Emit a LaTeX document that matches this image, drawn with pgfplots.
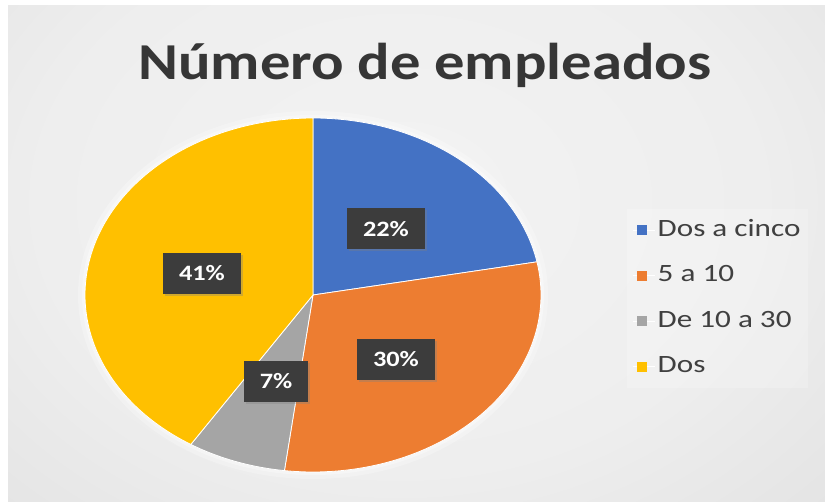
\documentclass[border=0pt]{standalone}
\usepackage{pgfplots}
\pgfplotsset{compat=1.18}
\usepackage{fontspec}
\setmainfont{Carlito}
\usetikzlibrary{shadows}
\definecolor{cBlue}{HTML}{4472C4}
\definecolor{cOrange}{HTML}{ED7D31}
\definecolor{cGray}{HTML}{A5A5A5}
\definecolor{cYellow}{HTML}{FFC000}
\definecolor{lblbox}{HTML}{3C3C3C}
\definecolor{txt}{HTML}{404040}
\definecolor{ttl}{HTML}{363636}
\definecolor{bgA}{HTML}{F3F3F3}
\definecolor{bgB}{HTML}{EEEEEE}
\definecolor{bgC}{HTML}{D9D9D9}
\definecolor{bgD}{HTML}{C6C6C6}
\pgfdeclareradialshading{bgshade}{\pgfpoint{0bp}{0bp}}{color(0bp)=(bgA); color(15bp)=(bgB); color(35bp)=(bgC); color(50bp)=(bgD)}
\tikzset{lbl/.style={fill=lblbox, text=white, font=\bfseries\fontsize{22}{22}\selectfont,
    minimum height=41bp, inner xsep=16bp, inner ysep=0bp,
    drop shadow={opacity=0.35, shadow xshift=2bp, shadow yshift=-2bp}}}
\begin{document}
\begin{tikzpicture}
\path[use as bounding box] (0,0) rectangle (825bp,502bp);
\fill[white] (0,0) rectangle (825bp,502bp);
\begin{scope}
\clip (8bp,0) rectangle (825bp,496bp);
\shade[shading=bgshade] (-200bp,-150bp) rectangle (1000bp,750bp);
\end{scope}
\node[anchor=base, text=ttl, font=\bfseries\fontsize{52}{52}\selectfont] at (425bp,422bp) {\scalebox{1.17}[1]{Número de empleados}};
\begin{axis}[
  at={(85bp,30bp)}, anchor=south west,
  width=456bp, height=354bp, scale only axis,
  xmin=-1, xmax=1, ymin=-1, ymax=1,
  hide axis, clip=false,
  legend image code/.code={\path (0bp,0bp) -- (22bp,0bp);\fill[#1,draw=none,fill opacity=1] (4bp,-5bp) rectangle (14bp,5bp);},
  legend cell align=left,
  legend style={at={(1.188,0.743)}, anchor=north west, draw=none,
    fill=white, fill opacity=0.2, text opacity=1, text=txt,
    font=\fontsize{25}{25}\selectfont, row sep=19.5bp,
    inner xsep=6bp, inner ysep=8bp,
    nodes={text height=17bp, text depth=5bp, inner xsep=2bp}},
]
% soft glow around the pie
\draw[white, opacity=0.25, line width=14bp] (axis cs:0,0) ellipse [x radius=1, y radius=1];
\draw[white, opacity=0.35, line width=6bp] (axis cs:0,0) ellipse [x radius=1, y radius=1];
% slices: 22%, 30%, 7%, 41%, clockwise from 12 o'clock (3.6 deg per percent)
\addplot[fill=cBlue, draw=white, line width=0.8bp, domain=10.8:90, samples=80] ({cos(x)},{sin(x)}) -- (axis cs:0,0) -- cycle;
\addplot[fill=cOrange, draw=white, line width=0.8bp, domain=-97.2:10.8, samples=100] ({cos(x)},{sin(x)}) -- (axis cs:0,0) -- cycle;
\addplot[fill=cGray, draw=white, line width=0.8bp, domain=-122.4:-97.2, samples=40] ({cos(x)},{sin(x)}) -- (axis cs:0,0) -- cycle;
\addplot[fill=cYellow, draw=white, line width=0.8bp, domain=-270:-122.4, samples=120] ({cos(x)},{sin(x)}) -- (axis cs:0,0) -- cycle;
\legend{\scalebox{1.25}[1]{Dos a cinco}, \scalebox{1.25}[1]{5 a 10}, \scalebox{1.25}[1]{De 10 a 30}, \scalebox{1.25}[1]{Dos}}
\node[lbl] at (axis cs:0.32,0.373) {\scalebox{1.2}[1]{22\%}};
\node[lbl] at (axis cs:0.364,-0.362) {\scalebox{1.2}[1]{30\%}};
\node[lbl] at (axis cs:-0.162,-0.486) {\scalebox{1.2}[1]{7\%}};
\node[lbl] at (axis cs:-0.487,0.124) {\scalebox{1.2}[1]{41\%}};
\end{axis}
\end{tikzpicture}
\end{document}
